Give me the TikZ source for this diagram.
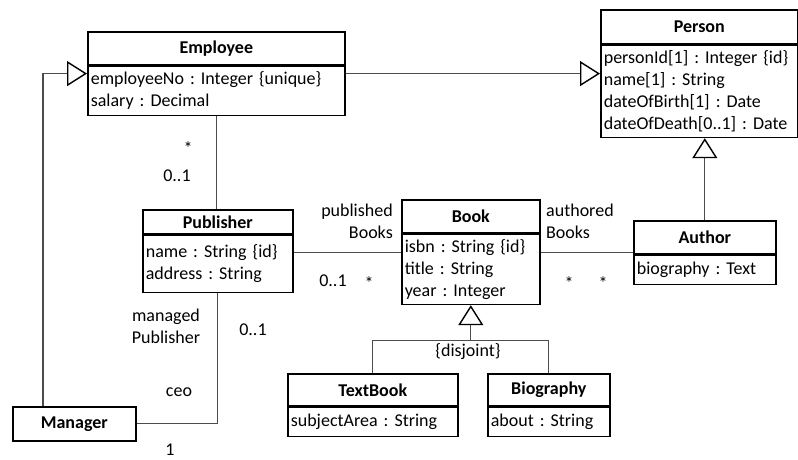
\documentclass[tikz,border=0pt]{standalone}
\usepackage{fontspec}
\setmainfont{Carlito}
\usetikzlibrary{arrows.meta}
\frenchspacing
\def\umlfont{\fontsize{18}{22}\selectfont}
\tikzset{
  head/.style={
    rectangle,
    draw=black,
    line width=1.6pt,
    anchor=north west,
    inner sep=0pt,
    font=\umlfont\bfseries
  },
  attrs/.style={
    rectangle,
    draw=black,
    line width=1.6pt,
    anchor=north west,
    align=left,
    inner xsep=3pt,
    inner ysep=0pt
  },
  lbl/.style={inner sep=0pt}
}
\tikzstyle{assoc} = [draw=black!70, line width=1.2pt]
\tikzstyle{gen} = [assoc, -{Triangle[open, length=20pt, width=25pt, line width=1.4pt, color=black]}]

\begin{document}
\begin{tikzpicture}[x=1pt, y=-1pt, font=\umlfont]
    \useasboundingbox (0,0) rectangle (798,460);

    % classes
    \node[head, minimum width=257pt, minimum height=33pt] (empH) at (87,31) {Employee};
    \node[attrs, text width=251pt, minimum height=49pt] (empA) at (empH.south west) {employeeNo : Integer \{unique\}\\salary : Decimal};
    \node[head, minimum width=197pt, minimum height=34pt] (perH) at (600,9) {Person};
    \node[attrs, text width=191pt, minimum height=92pt] (perA) at (perH.south west) {personId[1] : Integer \{id\}\\name[1] : String\\dateOfBirth[1] : Date\\dateOfDeath[0..1] : Date};
    \node[head, minimum width=150pt, minimum height=24pt] (pubH) at (142,209) {Publisher};
    \node[attrs, text width=144pt, minimum height=57pt] (pubA) at (pubH.south west) {name : String \{id\}\\address : String};
    \node[head, minimum width=138pt, minimum height=33pt] (bookH) at (401,199) {Book};
    \node[attrs, text width=132pt, minimum height=70pt] (bookA) at (bookH.south west) {isbn : String \{id\}\\title : String\\year : Integer};
    \node[head, minimum width=142pt, minimum height=33pt] (autH) at (633,220) {Author};
    \node[attrs, text width=136pt, minimum height=29pt] (autA) at (autH.south west) {biography : Text};
    \node[head, minimum width=170pt, minimum height=32pt] (tbH) at (287,373) {TextBook};
    \node[attrs, text width=164pt, minimum height=29pt] (tbA) at (tbH.south west) {subjectArea : String};
    \node[head, minimum width=122pt, minimum height=32pt] (bioH) at (487,373) {Biography};
    \node[attrs, text width=116pt, minimum height=29pt] (bioA) at (bioH.south west) {about : String};
    \node[head, minimum width=123pt, minimum height=34pt] (mgr) at (12,406) {Manager};

    % generalizations
    \draw[gen] ([yshift=-8pt]empA.north east) coordinate (g1) -- (g1 -| perA.west);
    \draw[gen] ([xshift=31pt]mgr.north west) |- ([yshift=-8pt]empA.north west);
    \draw[gen] (autH.north) -- (autH.north |- perA.south);
    \coordinate (split) at ([yshift=-35pt]bookA.south);
    \draw[assoc] (tbH.north) |- (split) -| (bioH.north);
    \draw[gen] (split) -- (bookA.south);

    % associations
    \draw[assoc] (empA.south) -- (empA.south |- pubH.north);
    \draw[assoc] ([yshift=-18pt]pubA.north east) coordinate (a1) -- (a1 -| bookA.west);
    \draw[assoc] (a1 -| bookA.east) -- (a1 -| autH.west);
    \draw[assoc] (mgr.east) -| (pubA.south);

    % role names and multiplicities
    \node[lbl] (m1) at (188,148) {*};
    \node[lbl] (m2) at (177,176) {0..1};
    \node[lbl, anchor=east, align=right] (r1) at (393,221) {published\\Books};
    \node[lbl] (m3) at (333,281) {0..1};
    \node[lbl] (m4) at (369,283) {*};
    \node[lbl, anchor=west, align=left] (r2) at (546,221) {authored\\Books};
    \node[lbl] (m5) at (569,283) {*};
    \node[lbl] (m6) at (603,283) {*};
    \node[lbl, align=center] (r3) at (166,326) {managed\\Publisher};
    \node[lbl] (m7) at (253,330) {0..1};
    \node[lbl] (r4) at (179,392) {ceo};
    \node[lbl, anchor=south] (m8) at (170,456) {1};
    \node[lbl] (dj) at (468,352) {\{disjoint\}};
\end{tikzpicture}
\end{document}
